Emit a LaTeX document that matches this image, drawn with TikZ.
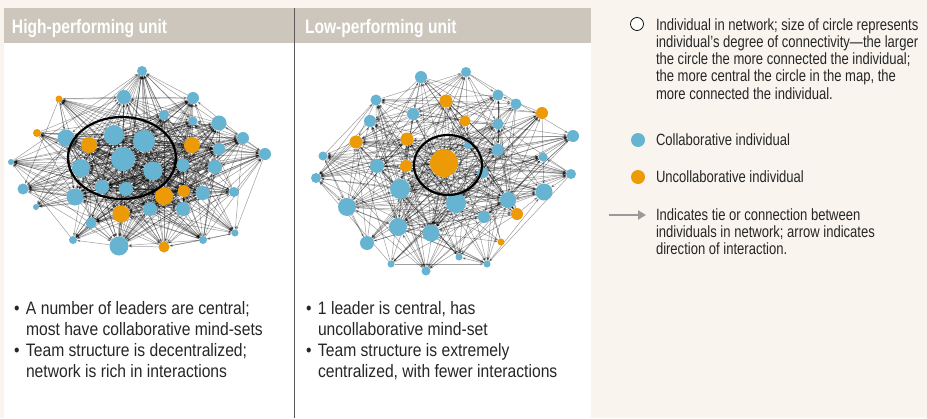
\documentclass[tikz,border=0pt]{standalone}
\usepackage{fontspec}
\setmainfont{Liberation Sans}[FakeStretch=0.8]
\newfontfamily\notefont{Liberation Sans}[FakeStretch=0.87]
\usetikzlibrary{arrows.meta, backgrounds}

\definecolor{paper}{HTML}{F9F5EE}
\definecolor{headgray}{HTML}{CDC6BD}
\definecolor{collabblue}{HTML}{66B3D2}
\definecolor{uncollaborange}{HTML}{EC9A06}
\definecolor{divider}{HTML}{5A5A5A}
\definecolor{legendarrow}{HTML}{9A9A9A}

\newcommand{\bul}{\makebox[12pt][l]{\textbullet}}
\newcommand{\ind}{\hspace*{12pt}}

\pgfdeclarelayer{back}
\pgfdeclarelayer{links}
\pgfsetlayers{back,links,main}

\tikzset{
  every node/.style={inner sep=0pt, outer sep=0pt},
  collab/.style={circle, fill=collabblue},
  uncollab/.style={circle, fill=uncollaborange},
  tie/.style={draw=black, opacity=0.38, line width=0.5pt,
    -{Stealth[length=3.5pt,width=2.6pt]}},
  ring/.style={draw=black, line width=2.2pt},
  headtext/.style={anchor=base west, text=white,
    font=\bfseries\fontsize{19.5}{20}\selectfont},
  bullets/.style={anchor=base west, align=left,
    font=\notefont\fontsize{18}{20.8}\selectfont, text=black!85},
  legendtext/.style={anchor=base west, align=left,
    font=\fontsize{16.3}{17.2}\selectfont, text=black!85},
}

% node lists: name/x/y/radius/style
\def\highlist{1/142/71/5/collab, 2/59/99/3.5/uncollab, 3/124/97/7/collab,
  4/193/98/6/collab, 5/164/115/5/collab, 6/193/121/4.5/collab,
  7/219/123/7.5/collab, 8/37/133/4/uncollab, 9/66/138/8.5/collab,
  10/114/135/10/collab, 11/144/141/11/collab, 12/89/145/8/uncollab,
  13/192/145/8/uncollab, 14/243/138/6/collab, 15/219/149/6/collab,
  16/265/154/6/collab, 17/123/159/12/collab, 18/11/162/3/collab,
  19/81/168/9/collab, 20/153/171/9.5/collab, 21/183/165/6.5/collab,
  22/215/167/7/collab, 23/102/187/7/collab, 24/126/189/7/collab,
  25/23/189/5.5/collab, 26/75/197/8.5/collab, 27/164/196/9/uncollab,
  28/184/191/6/uncollab, 29/203/193/7/collab, 30/234/192/5/collab,
  31/36/207/3/collab, 32/121/214/8.5/uncollab, 33/150/209/7/collab,
  34/183/209/7/collab, 35/91/223/5.5/collab, 36/235/233/3.5/collab,
  37/73/240/4/collab, 38/203/240/4/collab, 39/119/246/9.5/collab,
  40/164/247/5.5/uncollab}
\def\lowlist{1/421/77/6/collab, 2/466/72/5/collab, 3/376/100/5.5/collab,
  4/446/101/6.5/uncollab, 5/498/95/5.5/collab, 6/516/104/5.5/collab,
  7/542/113/6/uncollab, 8/413/114/6/collab, 9/465/121/5.5/uncollab,
  10/370/121/6/collab, 11/498/124/5.5/collab, 12/573/136/6/collab,
  13/356/142/6.5/uncollab, 14/407/139/6.5/uncollab, 15/468/145/4/collab,
  16/498/150/6/collab, 17/323/156/4.5/collab, 18/543/157/4.5/collab,
  19/444/163/14/uncollab, 20/377/166/7/collab, 21/406/166/6/uncollab,
  22/483/173/5.5/collab, 23/316/178/5/collab, 24/571/174/5/collab,
  25/400/189/10/collab, 26/544/192/8.5/collab, 27/347/207/9/collab,
  28/508/200/8/collab, 29/456/203/10/collab, 30/517/214/6/uncollab,
  31/484/217/6/collab, 32/398/227/9/collab, 33/431/233/8.5/collab,
  34/367/243/7/collab, 35/501/242/3.5/uncollab, 36/459/257/3.5/collab,
  37/391/264/3.5/collab, 38/487/264/3.5/collab, 39/426/271/4.5/collab}

\begin{document}
\begin{tikzpicture}[x=1pt, y=-1pt]
\useasboundingbox (0,0) rectangle (927,418);
\pgfmathsetseed{11}

% panels
\begin{pgfonlayer}{back}
  \fill[paper] (0,0) rectangle (927,418);
  \fill[white] (4,8) rectangle (591,418);
  \fill[headgray] (4,8) rectangle (591,43);
  \draw[divider, line width=0.9pt] (294,8) -- (294,418);
\end{pgfonlayer}

\node[headtext] (hhead) at (12,33) {High-performing unit};
\node[headtext] (lhead) at (305,33) {Low-performing unit};

% high-performing network
\foreach \n/\x/\y/\r/\s in \highlist
  \node[\s, minimum size=2*\r pt] (h\n) at (\x,\y) {};
\begin{pgfonlayer}{links}
\foreach \a/\ax/\ay/\ar/\as in \highlist {
  \foreach \b/\bx/\by/\br/\bs in \highlist {
    \ifnum\b>\a
      \pgfmathsetmacro\pp{0.15+\ar*\br/90}
      \pgfmathsetmacro\uu{rnd}
      \ifdim\uu pt<\pp pt
        \pgfmathsetmacro\ww{rnd}
        \ifdim\ww pt<0.5pt \draw[tie] (h\a) -- (h\b);
        \else \draw[tie] (h\b) -- (h\a); \fi
      \fi
    \fi
  }
}
\end{pgfonlayer}
\draw[ring] (122,158) ellipse [x radius=54, y radius=41];

% low-performing network
\foreach \n/\x/\y/\r/\s in \lowlist
  \node[\s, minimum size=2*\r pt] (l\n) at (\x,\y) {};
\begin{pgfonlayer}{links}
\foreach \a/\ax/\ay/\ar/\as in \lowlist {
  \foreach \b/\bx/\by/\br/\bs in \lowlist {
    \ifnum\b>\a
      \pgfmathsetmacro\pp{0.08+\ar*\br/100}
      \pgfmathsetmacro\uu{rnd}
      \ifdim\uu pt<\pp pt
        \pgfmathsetmacro\ww{rnd}
        \ifdim\ww pt<0.5pt \draw[tie] (l\a) -- (l\b);
        \else \draw[tie] (l\b) -- (l\a); \fi
      \fi
    \fi
  }
}
\end{pgfonlayer}
\draw[ring] (448,165) ellipse [x radius=34, y radius=30];

% bullet notes (anchored at the last line)
\node[bullets] (hnotes) at (14,377) {\bul A number of leaders are central;\\
  \ind most have collaborative mind-sets\\
  \bul Team structure is decentralized;\\
  \ind network is rich in interactions};
\node[bullets] (lnotes) at (306,377) {\bul 1 leader is central, has\\
  \ind uncollaborative mind-set\\
  \bul Team structure is extremely\\
  \ind centralized, with fewer interactions};

% legend
\node[circle, draw=black, fill=white, line width=0.7pt, minimum size=13pt]
  (keyring) at (637,24) {};
\node[legendtext] (keyringtext) at (656,99) {Individual in network; size of circle represents\\
  individual’s degree of connectivity—the larger\\
  the circle the more connected the individual;\\
  the more central the circle in the map, the\\
  more connected the individual.};
\node[collab, minimum size=14pt] (keyblue) at (638,140) {};
\node[legendtext] (keybluetext) at (656,145) {Collaborative individual};
\node[uncollab, minimum size=14pt] (keyorange) at (638,177) {};
\node[legendtext] (keyorangetext) at (656,182) {Uncollaborative individual};
\coordinate (keyarrowS) at (609,215);
\coordinate (keyarrowE) at (646,215);
\draw[legendarrow, line width=2.4pt, -{Triangle[length=8pt,width=9pt]}]
  (keyarrowS) -- (keyarrowE);
\node[legendtext] (keyarrowtext) at (656,254.4) {Indicates tie or connection between\\
  individuals in network; arrow indicates\\
  direction of interaction.};
\end{tikzpicture}
\end{document}
